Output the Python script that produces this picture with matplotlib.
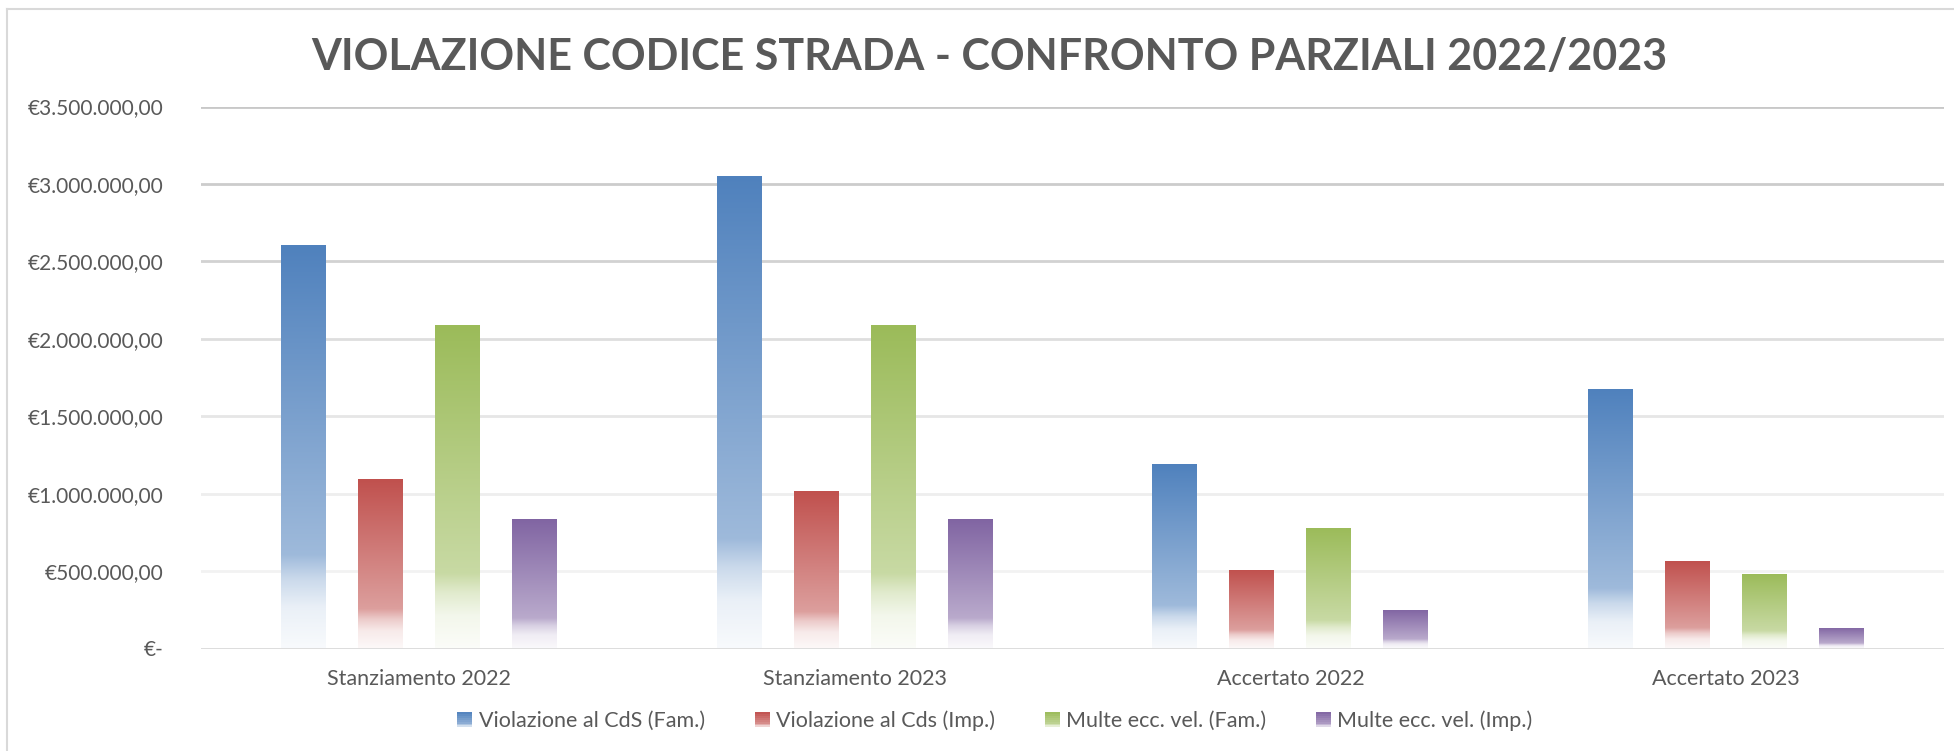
import numpy as np
import matplotlib
matplotlib.use("Agg")
import matplotlib.pyplot as plt
from matplotlib.patches import Rectangle
from matplotlib.lines import Line2D
from matplotlib.legend_handler import HandlerBase
from matplotlib.colors import to_rgb
from matplotlib.ticker import FuncFormatter

plt.rcParams['font.family'] = ['Lato', 'DejaVu Sans']

# ---------------- data ----------------
categories = ["Stanziamento 2022", "Stanziamento 2023", "Accertato 2022", "Accertato 2023"]
series_names = ["Violazione al CdS (Fam.)", "Violazione al Cds (Imp.)",
                "Multe ecc. vel. (Fam.)", "Multe ecc. vel. (Imp.)"]
viol_cds_fam = [2608000, 3050000, 1194000, 1673000]
viol_cds_imp = [1097000, 1019000, 507000, 565000]
multe_fam = [2091000, 2089000, 779000, 481000]
multe_imp = [839000, 838000, 248000, 132000]
series_values = [viol_cds_fam, viol_cds_imp, multe_fam, multe_imp]
series_colors = ["#4F81BD", "#C0504D", "#9BBB59", "#8064A2"]
yticks = [0, 500000, 1000000, 1500000, 2000000, 2500000, 3000000, 3500000]
title = "VIOLAZIONE CODICE STRADA - CONFRONTO PARZIALI 2022/2023"

TXT = "#595959"
W, H = 1954, 751
fig = plt.figure(figsize=(W / 100, H / 100), dpi=100)
fig.patch.set_facecolor("white")

ax = fig.add_axes([201 / W, 1 - 648.5 / H, (1944 - 201) / W, (648.5 - 106.5) / H])
ax.set_facecolor("none")

# gradient stops: position from bottom (0) to top (1) -> white mix
stop_pos = [0.0, 0.10, 0.17, 0.23, 1.0]
stop_t = [0.96, 0.88, 0.70, 0.45, 0.0]


def gradient_img(color, n=256):
    c = np.array(to_rgb(color))
    p = np.linspace(0, 1, n)
    t = np.interp(p, stop_pos, stop_t)[:, None]
    rgb = c[None, :] * (1 - t) + t
    return rgb[:, None, :]


x = np.arange(len(categories))
bw = 45 / 435.75
step = 77 / 435.75

for i, (vals, col) in enumerate(zip(series_values, series_colors)):
    bars = ax.bar(x + (i - 1.5) * step, vals, bw, color="none", edgecolor="none", zorder=2)
    img = gradient_img(col)
    for patch in bars.patches:
        x0 = patch.get_x()
        x1 = x0 + patch.get_width()
        h = patch.get_height()
        im = ax.imshow(img, extent=(x0, x1, 0, h), origin="lower", aspect="auto",
                       interpolation="bilinear", zorder=2)
        im.set_clip_path(patch)

ax.set_xlim(-0.5, len(categories) - 0.5)
ax.set_ylim(0, 3500000)

# gridlines with fading grey
grid_cols = ["#d9d9d9", "#f2f2f2", "#eeeeee", "#e6e6e6", "#dedede", "#d2d2d2", "#cccccc", "#c8c8c8"]
for v, gc in zip(yticks, grid_cols):
    ax.axhline(v, color=gc, lw=2.0, zorder=0.5)

for s in ax.spines.values():
    s.set_visible(False)


def eur(v, pos=None):
    if v == 0:
        return "€-"
    s = f"{v:,.2f}"
    s = s.replace(",", "X").replace(".", ",").replace("X", ".")
    return "€" + s


ax.set_yticks(yticks)
ax.yaxis.set_major_formatter(FuncFormatter(eur))
ax.set_xticks(x)
ax.set_xticklabels(categories)
ax.tick_params(axis="y", length=0, pad=27, labelsize=15, labelcolor=TXT)
ax.tick_params(axis="x", length=0, pad=15, labelsize=15.5, labelcolor=TXT)

fig.text(0.5 * (311 + 1667) / W, 1 - 57 / H, title, ha="center", va="center",
         fontsize=31, fontweight="bold", color=TXT)


# legend with gradient squares
class GradHandler(HandlerBase):
    def create_artists(self, legend, orig_handle, xdescent, ydescent, width, height, fontsize, trans):
        col = orig_handle.get_facecolor()
        c = np.array(col[:3])
        n = 8
        arts = []
        side = min(width, height)
        x0 = -xdescent + (width - side)
        y0 = -ydescent + (height - side) / 2
        for k in range(n):
            p = (k + 0.5) / n
            t = np.interp(p, [0.0, 0.3, 1.0], [0.85, 0.35, 0.0])
            rc = c * (1 - t) + t
            r = Rectangle((x0, y0 + side * k / n), side, side / n + 0.3,
                          facecolor=rc, edgecolor="none", transform=trans)
            arts.append(r)
        return arts


handles = [Rectangle((0, 0), 1, 1, facecolor=c) for c in series_colors]
leg = fig.legend(handles, series_names, loc="center", bbox_to_anchor=(995 / W, 1 - 721 / H),
                 ncol=4, frameon=False, fontsize=15.5, handlelength=0.7, handleheight=0.7,
                 handletextpad=0.3, columnspacing=2.3,
                 handler_map={Rectangle: GradHandler()})
for t in leg.get_texts():
    t.set_color(TXT)

# chart border (top & left visible)
fig.add_artist(Line2D([7 / W, 1], [1 - 9 / H, 1 - 9 / H], transform=fig.transFigure,
                      color="#d9d9d9", lw=1.5))
fig.add_artist(Line2D([7 / W, 7 / W], [0, 1 - 9 / H], transform=fig.transFigure,
                      color="#d9d9d9", lw=1.5))

fig.savefig("out.png", dpi=100, facecolor="white")
